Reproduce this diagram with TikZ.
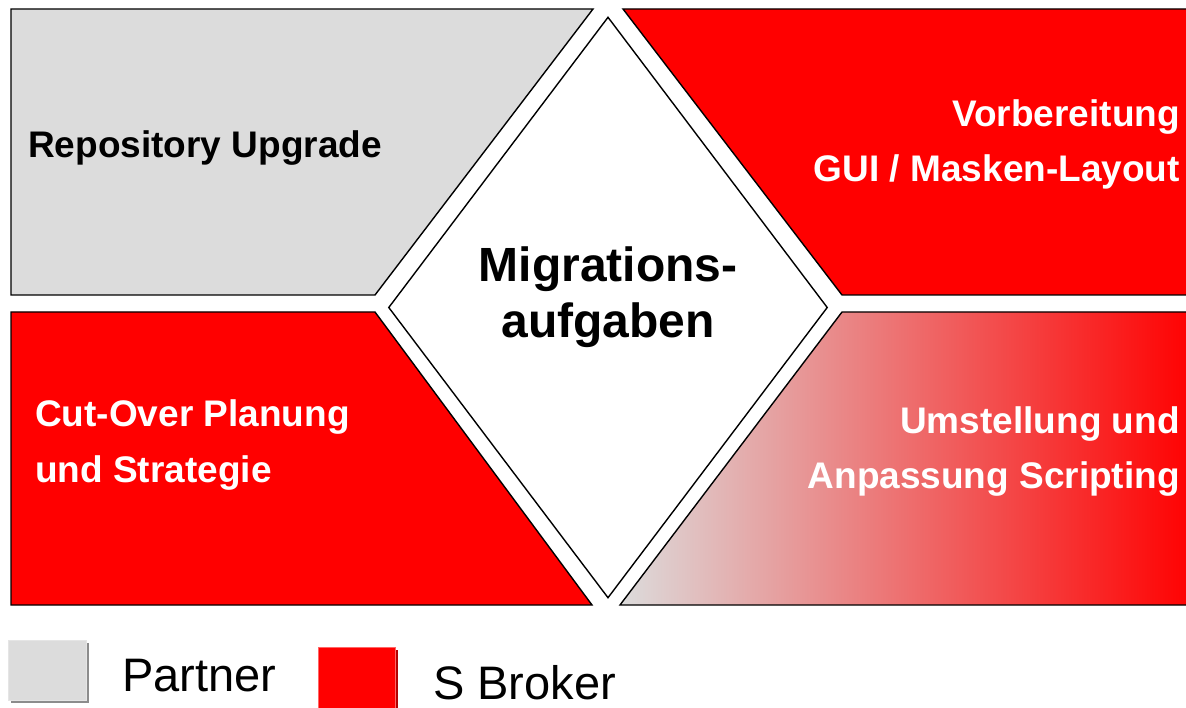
\documentclass[tikz,border=0pt]{standalone}
\usepackage{fontspec}
\setmainfont{Liberation Sans}
\usetikzlibrary{shapes.geometric}

\definecolor{partnergrau}{HTML}{DCDCDC}
\definecolor{brokerrot}{HTML}{FF0000}

\begin{document}
\begin{tikzpicture}[x = 1pt, y = -1pt, line join = miter,
	feld/.style = {draw = black, line width = 1.4pt},
	grau/.style = {feld, fill = partnergrau},
	rot/.style = {feld, fill = brokerrot},
	verlauf/.style = {feld, left color = partnergrau, middle color = brokerrot!25!partnergrau, right color = brokerrot},
	feldtext/.style = {font = \bfseries\fontsize{37}{55}\selectfont, inner sep = 0pt},
	legtext/.style = {font = \fontsize{47}{50}\selectfont, inner sep = 0pt, anchor = base west}]
				\useasboundingbox (0,0) rectangle (1186,708);
				% Felder
				\draw[grau] (11,9) -- (593,9) -- (375,295) -- (11,295) -- cycle;
				\draw[rot] (623,9) -- (1195,9) -- (1195,295) -- (842,295) -- cycle;
				\draw[rot] (11,312) -- (375,312) -- (592,605) -- (11,605) -- cycle;
				\draw[verlauf] (842,312) -- (1195,312) -- (1195,605) -- (620,605) -- cycle;
				\node[diamond, draw = black, line width = 1.4pt, fill = white, inner sep = 0pt,
					minimum width = 439pt, minimum height = 581pt] (mitte) at (608,307.5) {};
				% Texte (base = letzte Zeile)
				\node[feldtext, anchor = base west] (repo) at (28,158) {Repository Upgrade};
				\node[feldtext, anchor = base east, align = right, text = white] (gui) at (1180,182)
					{Vorbereitung\\GUI / Masken-Layout};
				\node[feldtext, anchor = base west, align = left, text = white] (cut) at (35,482)
					{Cut-Over Planung\\und Strategie};
				\node[feldtext, anchor = base east, align = right, text = white] (skript) at (1180,488)
					{Umstellung und\\Anpassung Scripting};
				\node[font = \bfseries\fontsize{48}{56}\selectfont, inner sep = 0pt, align = center,
					anchor = base] (mittetext) at (mitte.center |- 0,338) {Migrations-\\aufgaben};
				% Legende
				\fill[black!45] (11,643) rectangle (89,703);
				\draw[black!10, line width = 1pt, fill = partnergrau] (8,640) rectangle (86,700);
				\fill[brokerrot!70!black] (321,650) rectangle (398,712);
				\draw[brokerrot!60!white, line width = 1pt, fill = brokerrot] (318,647) rectangle (395,712);
				\node[legtext] (partner) at (122,691) {Partner};
				\node[legtext] (broker) at (433,699) {S Broker};
			\end{tikzpicture}
\end{document}
